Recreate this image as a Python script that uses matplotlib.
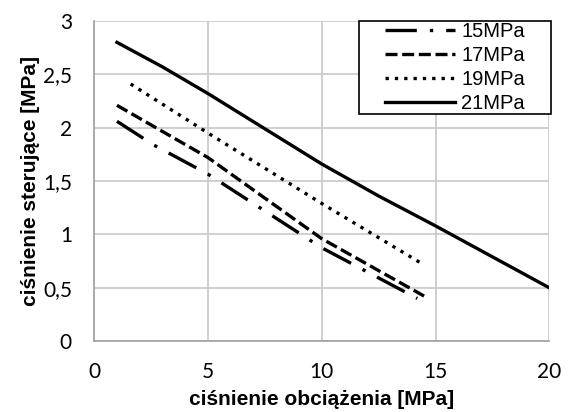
import matplotlib
matplotlib.use('Agg')
import matplotlib.pyplot as plt
from matplotlib.patches import Rectangle
from matplotlib.ticker import FuncFormatter

plt.rcParams['font.family'] = ['Liberation Sans', 'DejaVu Sans']

# values
x15 = [1, 2.6, 5, 10, 14.2]
y15 = [2.06, 1.84, 1.565, 0.875, 0.4]
x17 = [1, 5, 10, 14.6]
y17 = [2.21, 1.72, 0.96, 0.41]
x19 = [1.6, 5, 7.35, 10, 14.45]
y19 = [2.41, 1.95, 1.64, 1.29, 0.72]
x21 = [1, 3, 5, 7.5, 10, 12.5, 15, 17.5, 20]
y21 = [2.8, 2.57, 2.32, 1.99, 1.66, 1.36, 1.08, 0.79, 0.5]
labels = ['15MPa', '17MPa', '19MPa', '21MPa']

fig = plt.figure(figsize=(5.71, 4.12), dpi=100)
ax = fig.add_axes([0.165, 0.172, 0.797, 0.777])

lw = 2.4
ax.plot(x15, y15, color='black', lw=lw, dashes=(9.4, 3.9, 1, 3.9), label=labels[0])
ax.plot(x17, y17, color='black', lw=lw, dashes=(3.6, 1.4), label=labels[1])
ax.plot(x19, y19, color='black', lw=lw, dashes=(1, 1.8), label=labels[2])
ax.plot(x21, y21, color='black', lw=lw, label=labels[3])

ax.set_xlim(0, 20)
ax.set_ylim(0, 3)
ax.set_xticks([0, 5, 10, 15, 20])
ax.set_yticks([0, 0.5, 1, 1.5, 2, 2.5, 3])
ax.yaxis.set_major_formatter(FuncFormatter(lambda v, p: ('%g' % v).replace('.', ',')))
ax.grid(True, color='#c8c8c8', lw=1.2)
ax.set_axisbelow(True)
for s in ['top', 'right']:
    ax.spines[s].set_visible(False)
for s in ['left', 'bottom']:
    ax.spines[s].set_color('#a0a0a0')
    ax.spines[s].set_linewidth(1.2)
ax.tick_params(length=0, labelsize=15)
ax.tick_params(axis='y', pad=16)
ax.tick_params(axis='x', pad=15)
for t in ax.get_xticklabels() + ax.get_yticklabels():
    t.set_family(['Lato', 'DejaVu Sans'])

ax.set_xlabel('ciśnienie obciążenia [MPa]', fontsize=15, fontweight='bold', labelpad=6)
ax.set_ylabel('ciśnienie sterujące [MPa]', fontsize=15, fontweight='bold', labelpad=2)

# legend box drawn by hand so the padding matches
box = (0.582, 0.709, 0.422, 0.291)
ax.add_patch(Rectangle(box[:2], box[2], box[3], transform=ax.transAxes,
                       facecolor='white', edgecolor='black', lw=1.2,
                       clip_on=False, zorder=4))
leg = ax.legend(loc='center', bbox_to_anchor=box, fontsize=14.5, frameon=False,
                borderaxespad=0, handlelength=3.5, handletextpad=0.3,
                labelspacing=0.25, borderpad=0)
leg.set_zorder(5)

fig.savefig('out.png', dpi=100)
